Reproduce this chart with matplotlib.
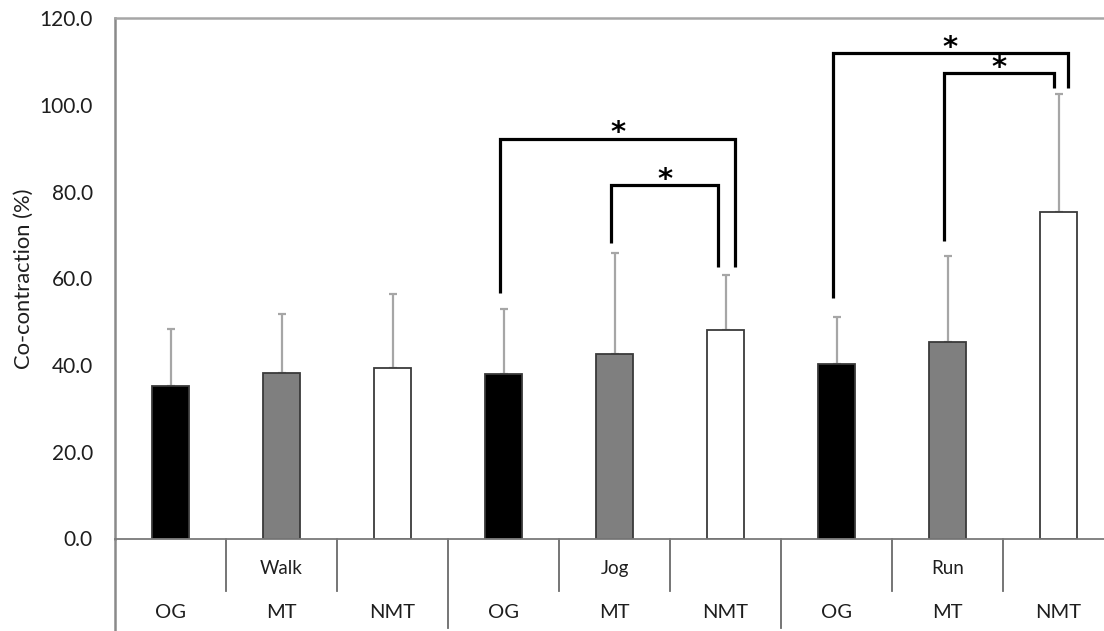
import matplotlib

matplotlib.use("Agg")
import matplotlib.pyplot as plt
import numpy as np

plt.rcParams["font.family"] = ["Lato", "DejaVu Sans"]

# values
groups = ["Walk", "Jog", "Run"]
conditions = ["OG", "MT", "NMT"]
means = [35.2, 38.1, 39.3, 37.9, 42.6, 48.1, 40.2, 45.3, 75.4]
sd_upper = [13.1, 13.8, 17.1, 15.1, 23.3, 12.7, 11.0, 19.9, 27.1]

# significance brackets (bar indices, bracket height, leg ends)
brk_left = [3, 4, 6, 7]
brk_right = [5, 5, 8, 8]
brk_top = [92.2, 81.5, 111.9, 107.3]
brk_left_end = [56.7, 68.2, 55.5, 68.7]
brk_right_end = [62.7, 62.7, 103.9, 103.9]
brk_right_shift = [0.085, -0.065, 0.083, -0.04]

W, H = 1104, 631
fig = plt.figure(figsize=(W / 100, H / 100), dpi=100)
ax = fig.add_axes([115 / W, 1 - 538.5 / H, (W - 115) / W, 520.2 / H])

n = len(means)
x = np.arange(n) + 0.5
fills = ["black", "#7f7f7f", "white"] * len(groups)
txt = "#1e1e1e"

ax.errorbar(x, means, yerr=[np.zeros(n), sd_upper], fmt="none", ecolor="#a6a6a6",
            elinewidth=1.6, capsize=3, capthick=1.6, zorder=1)
ax.bar(x, means, width=0.325, color=fills, edgecolor="#3a3a3a", linewidth=1.3, zorder=2)

for l, r, top, yl, yr, sh in zip(brk_left, brk_right, brk_top, brk_left_end, brk_right_end, brk_right_shift):
    xl = x[l] - 0.03
    xr = x[r] + sh
    ax.plot([xl, xl, xr, xr], [yl, top, top, yr], color="black", lw=2.3,
            solid_joinstyle="miter", solid_capstyle="butt", zorder=3)
    ax.text((xl + xr) / 2, top - 0.6, "*", ha="center", va="baseline", fontsize=21,
            fontweight="bold", family="DejaVu Sans", color="black")

ax.set_xlim(0, (W - 115) / 111)
ax.set_ylim(0, 120)
ax.set_yticks(np.arange(0, 121, 20))
ax.set_yticklabels([f"{v:.1f}" for v in np.arange(0, 121, 20)], fontsize=15, color=txt)
ax.tick_params(axis="y", length=0, pad=16)
ax.set_xticks([])

ax.spines["right"].set_visible(False)
ax.spines["top"].set_color("#a6a6a6")
ax.spines["top"].set_linewidth(1.8)
ax.spines["left"].set_color("#8a8a8a")
ax.spines["left"].set_linewidth(1.8)
ax.spines["bottom"].set_color("#7a7a7a")
ax.spines["bottom"].set_linewidth(1.3)

# category table under the axis
tr = ax.get_xaxis_transform()
ax.plot([0, 0], [0, -0.175], transform=tr, color="#8a8a8a", lw=1.8, clip_on=False)
for b in range(1, n + 1):
    bottom = -0.172 if b % 3 == 0 else -0.100
    ax.plot([b, b], [0, bottom], transform=tr, color="#6a6a6a", lw=1.3, clip_on=False)
for g, name in enumerate(groups):
    ax.text(3 * g + 1.5, -0.0586, name, transform=tr, ha="center", va="center",
            fontsize=13.5, color=txt)
for i in range(n):
    ax.text(x[i], -0.143, conditions[i % 3], transform=tr, ha="center", va="center",
            fontsize=14.5, color=txt)

fig.text(24 / W, 1 - 278.5 / H, "Co-contraction (%)", rotation=90, ha="center", va="center",
         fontsize=15.8, color=txt)

fig.savefig("out.png", dpi=100)
